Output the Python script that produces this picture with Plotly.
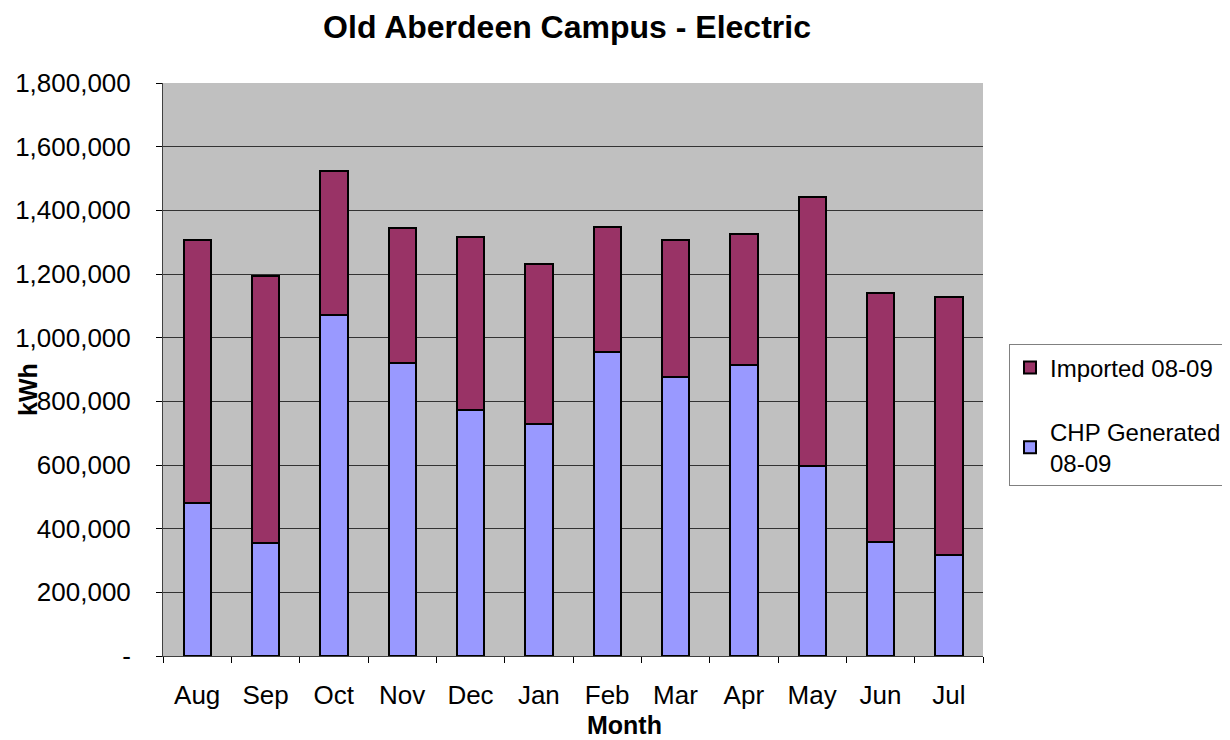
import plotly.graph_objects as go

months = ["Aug", "Sep", "Oct", "Nov", "Dec", "Jan", "Feb", "Mar", "Apr", "May", "Jun", "Jul"]
chp_generated = [480000, 354000, 1072000, 922000, 773000, 729000, 954000, 875000, 915000, 597000, 359000, 317000]
imported = [827000, 840000, 452000, 424000, 542000, 503000, 395000, 432000, 410000, 846000, 781000, 812000]
tick_vals = [0, 200000, 400000, 600000, 800000, 1000000, 1200000, 1400000, 1600000, 1800000]
tick_text = ["-", "200,000", "400,000", "600,000", "800,000", "1,000,000", "1,200,000", "1,400,000", "1,600,000", "1,800,000"]

FONT = "Arial, Liberation Sans, sans-serif"

fig = go.Figure()
fig.add_trace(go.Bar(
    x=months, y=chp_generated, name="CHP Generated<br>08-09", legendgroup="chp", legendrank=2,
    marker=dict(color="#9999FF", line=dict(color="black", width=2)),
))
fig.add_trace(go.Bar(
    x=months, y=imported, name="Imported 08-09", legendgroup="imp", legendrank=1,
    marker=dict(color="#993366", line=dict(color="black", width=2)),
))

fig.update_layout(
    width=1230, height=740,
    barmode="stack", bargap=0.6,
    paper_bgcolor="white", plot_bgcolor="#C0C0C0",
    margin=dict(l=155, r=255, t=75, b=92, autoexpand=False),
    font=dict(family=FONT, color="black", size=26),
    title=dict(text="<b>Old Aberdeen Campus - Electric</b>", xref="paper", x=0.4927, xanchor="center",
               y=0.974, yanchor="middle", font=dict(size=32, family=FONT)),
    showlegend=True,
    legend=dict(x=1.0317, xanchor="left", y=0.42, yanchor="middle",
                traceorder="grouped", bgcolor="white", bordercolor="#808080", borderwidth=1,
                font=dict(size=24, family=FONT), tracegroupgap=30, itemwidth=30),
)
fig.update_xaxes(
    showgrid=False, ticks="outside", tickson="boundaries", ticklen=6, tickcolor="black",
    showline=True, linecolor="#404040", linewidth=1, ticklabelstandoff=16,
    tickfont=dict(size=26, family=FONT),
)
fig.update_yaxes(
    range=[0, 1800000], tickvals=tick_vals, ticktext=tick_text,
    showgrid=True, gridcolor="#333333", gridwidth=1.2,
    ticks="outside", ticklen=6, tickcolor="black", ticklabelstandoff=20,
    showline=True, linecolor="#404040", linewidth=1, mirror=False,
    tickfont=dict(size=26, family=FONT), zeroline=False,
)
fig.add_annotation(text="<b>kWh</b>", textangle=-90, xref="paper", yref="paper",
                   x=-0.184, y=0.4645, showarrow=False, font=dict(size=25, family=FONT))
fig.add_annotation(text="<b>Month</b>", xref="paper", yref="paper",
                   x=0.563, y=-0.1204, yanchor="middle", showarrow=False, font=dict(size=25, family=FONT))

fig.write_html("out.html")
